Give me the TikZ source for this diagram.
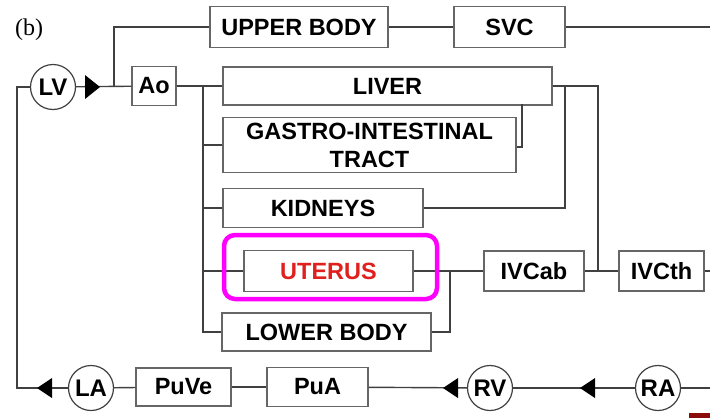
\documentclass[tikz,border=0pt]{standalone}
\usepackage{fontspec}
\setmainfont{Liberation Sans}
\newfontfamily\labelserif{Liberation Serif}
\definecolor{uterusred}{HTML}{E0201E}
\definecolor{hilite}{HTML}{FF00FF}
\definecolor{cornerred}{HTML}{8B0A0A}
\begin{document}
\begin{tikzpicture}[x=1pt,y=-1pt,
  conn/.style={draw=black!75, line width=1.4pt},
  organ/.style={draw=black!60, line width=1.2pt, fill=white, inner sep=0pt,
    font=\fontsize{23.5}{28}\selectfont\bfseries, align=center},
  chamber/.style={circle, draw=black!75, line width=1.2pt, fill=white, inner sep=0pt,
    minimum size=45pt, font=\fontsize{24}{26}\selectfont\bfseries},
  tipfill/.style={fill=black}
]
\useasboundingbox (0,0) rectangle (710,418);

% label
\node[anchor=base west, inner sep=0pt, font=\labelserif\fontsize{24}{26}\selectfont] (lbl) at (15,35) {(b)};

% top row
\node[chamber] (LV) at (53,87) {LV};
\node[organ, minimum width=44pt, minimum height=39pt] (Ao) at (154,86) {Ao};
\node[organ, minimum width=178pt, minimum height=41pt] (UB) at (299,27) {UPPER BODY};
\node[organ, minimum width=111pt, minimum height=41pt] (SVC) at (509.5,27) {SVC};

% organs
\node[organ, minimum width=329pt, minimum height=38pt] (LIVER) at (387.5,86) {LIVER};
\node[organ, minimum width=293pt, minimum height=55pt] (GI) at (369.5,145) {GASTRO-INTESTINAL\\TRACT};
\node[organ, minimum width=200pt, minimum height=39pt] (KID) at (323,208) {KIDNEYS};
\node[organ, minimum width=169pt, minimum height=41pt, text=uterusred] (UT) at (328.5,271) {UTERUS};
\node[organ, minimum width=209pt, minimum height=38pt] (LB) at (326.5,332) {LOWER BODY};
\node[organ, minimum width=100pt, minimum height=40pt] (IVCab) at (534,271) {IVCab};
\node[organ, minimum width=85pt, minimum height=40pt] (IVCth) at (661.5,271) {IVCth};

% bottom row
\node[chamber] (LA) at (91,388) {LA};
\node[organ, minimum width=95pt, minimum height=38pt] (PuVe) at (183.5,387) {PuVe};
\node[organ, minimum width=101pt, minimum height=39pt] (PuA) at (317.5,387) {PuA};
\node[chamber] (RV) at (490,388) {RV};
\node[chamber] (RA) at (658,388) {RA};

% coordinates
\coordinate (cLVl) at (17,87);
\coordinate (cLAl) at (17,388);
\coordinate (j1) at (114,87);
\coordinate (j1t) at (114,27);
\coordinate (bus) at (203,86);
\coordinate (busend) at (203,332);
\coordinate (svcend) at (710,27);
\coordinate (r1) at (598,86);
\coordinate (r1b) at (598,271);
\coordinate (k1) at (565,86);
\coordinate (k1b) at (565,208);
\coordinate (g1) at (522,104);
\coordinate (g1b) at (522,147);
\coordinate (u1) at (450,271);
\coordinate (u1b) at (450,332);
\coordinate (ivcend) at (710,271);
\coordinate (raend) at (710,388);
\coordinate (t1) at (100,87);
\coordinate (t2) at (37,388);
\coordinate (t3) at (443,388);
\coordinate (t4) at (580,388);

% connectors
\draw[conn] (LV) -- (cLVl) -- (cLAl) -- (LA);
\draw[conn] (LV) -- (Ao);
\draw[conn] (j1) -- (j1t) -- (UB);
\draw[conn] (UB) -- (SVC);
\draw[conn] (SVC) -- (svcend);
\draw[conn] (Ao) -- (bus) -- (busend) -- (LB);
\draw[conn] (bus) -- (LIVER);
\draw[conn] (GI.west -| bus) -- (GI.west);
\draw[conn] (KID.west -| bus) -- (KID.west);
\draw[conn] (UT.west -| bus) -- (UT.west);
\draw[conn] (LIVER.east) -- (r1) -- (r1b);
\draw[conn] (KID.east) -- (k1b) -- (k1);
\draw[conn] (g1) -- (g1b) -- (GI.east |- g1b);
\draw[conn] (UT) -- (u1) -- (IVCab);
\draw[conn] (LB) -- (u1b) -- (u1);
\draw[conn] (IVCab) -- (IVCth);
\draw[conn] (IVCth) -- (ivcend);
\draw[conn] (RA) -- (raend);
\draw[conn] (RA) -- (RV);
\draw[conn] (RV) -- (PuA);
\draw[conn] (PuA) -- (PuVe);
\draw[conn] (PuVe) -- (LA);

% arrow heads
\fill[tipfill] (t1) -- ++(-15,-12) -- ++(0,24) -- cycle;
\fill[tipfill] (t2) -- ++(15,-10) -- ++(0,20) -- cycle;
\fill[tipfill] (t3) -- ++(15,-10) -- ++(0,20) -- cycle;
\fill[tipfill] (t4) -- ++(15,-10) -- ++(0,20) -- cycle;

% highlight
\node[draw=hilite, line width=4.5pt, rounded corners=11pt, minimum width=213pt, minimum height=64pt, inner sep=0pt] (hl) at (330.5,267) {};

% corner mark
\fill[cornerred] (689,413) rectangle (710,418);
\end{tikzpicture}
\end{document}
